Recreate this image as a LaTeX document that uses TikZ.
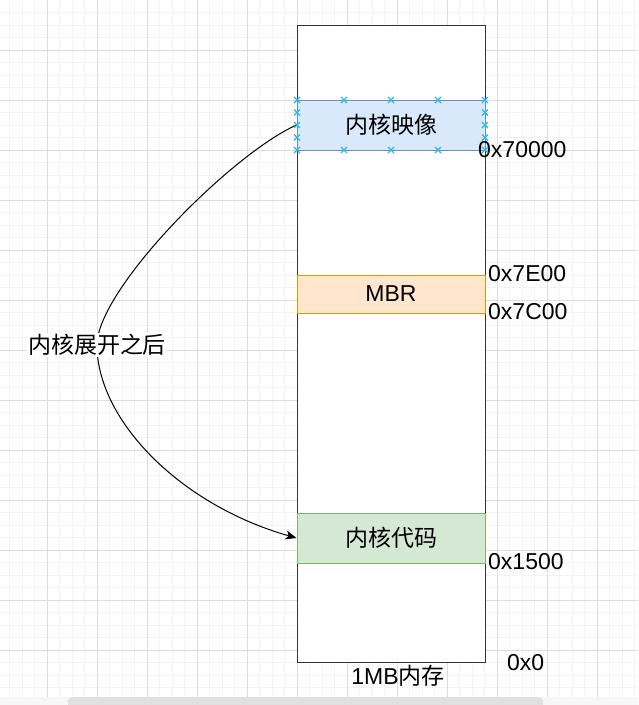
\documentclass[tikz,border=0pt]{standalone}
\usepackage{fontspec}
\setmainfont{Liberation Sans}
\newfontfamily\cjk{Noto Sans CJK SC}
\usetikzlibrary{arrows.meta}
\definecolor{minorgrid}{HTML}{F3F3F3}
\definecolor{majorgrid}{HTML}{DDDDDD}
\definecolor{blkblue}{HTML}{DAE8FC}
\definecolor{lineblue}{HTML}{6C8EBF}
\definecolor{blkorange}{HTML}{FFE6CC}
\definecolor{lineorange}{HTML}{D79B00}
\definecolor{blkgreen}{HTML}{D5E8D4}
\definecolor{linegreen}{HTML}{82B366}
\definecolor{handlecol}{HTML}{29B6F2}
\definecolor{barcol}{HTML}{E0E0E0}
\newcommand\bigtxt{\fontsize{23pt}{27pt}\selectfont}
\tikzset{
  memblk/.style={draw, line width=1pt, minimum width=188pt, inner sep=0pt, font=\bigtxt},
  addr/.style={anchor=west, inner sep=0pt, font=\bigtxt},
  handle/.style={handlecol, line width=1.2pt}
}
\begin{document}
\begin{tikzpicture}[x=1pt, y=-1pt, >={Stealth[length=11pt,width=9pt,inset=3pt]}]
\useasboundingbox (0,0) rectangle (638,705);
\fill[white] (0,0) rectangle (638,705);
% grid
\foreach \i in {-3,...,51}
{
    \draw[minorgrid, line width=1pt] (47.3+12.5*\i,0)--(47.3+12.5*\i,697);
}
\foreach \i in {1,...,55}
{
    \draw[minorgrid, line width=1pt] (0,12.5*\i)--(638,12.5*\i);
}
\foreach \i in {-1,...,12}
{
    \draw[majorgrid, line width=1pt] (47.3+50*\i,0)--(47.3+50*\i,697);
}
\foreach \i in {1,...,13}
{
    \draw[majorgrid, line width=1pt] (0,50*\i)--(638,50*\i);
}

% memory
\node[memblk, draw=black!80, fill=white, minimum height=637.5pt] (mem) at (391,343.75) {};
\node[memblk, draw=lineblue, fill=blkblue, minimum height=50pt] (img) at (391,125) {\cjk 内核映像};
\node[memblk, draw=lineorange, fill=blkorange, minimum height=38pt] (mbr) at (391,294) {MBR};
\node[memblk, draw=linegreen, fill=blkgreen, minimum height=50pt] (code) at (391,538) {\cjk 内核代码};
\node[font=\bigtxt, inner sep=0pt] (memtxt) at (398,676) {1MB{\cjk 内存}};

\node[addr] (a70000) at (478,150) {0x70000};
\node[addr] (a7e00) at (488,274) {0x7E00};
\node[addr] (a7c00) at (488,311.7) {0x7C00};
\node[addr] (a1500) at (488,561.7) {0x1500};
\node[addr] (a0) at (507,662.5) {0x0};

% unpack
\coordinate (bend) at (97,345);
\draw[->, line width=1pt] (img.west) .. controls (230,155) and (97,290) .. (bend)
    .. controls (97,420) and (180,505) .. (code.west);
\node[font=\bigtxt, fill=white, inner sep=1pt] (after) at (bend) {\cjk 内核展开之后};

% selection handles
\foreach \x in {297,344,391,438,485}
{
    \draw[handle] (\x-3,97)--(\x+3,103) (\x-3,103)--(\x+3,97);
    \draw[handle] (\x-3,147)--(\x+3,153) (\x-3,153)--(\x+3,147);
}
\foreach \y in {112.5,125,137.5}
{
    \draw[handle] (294,\y-3)--(300,\y+3) (294,\y+3)--(300,\y-3);
    \draw[handle] (482,\y-3)--(488,\y+3) (482,\y+3)--(488,\y-3);
}

% scroll bar
\fill[black!3] (0,697) rectangle (638,705);
\fill[barcol, rounded corners=4pt] (68,697) rectangle (543,712);
\end{tikzpicture}
\end{document}
